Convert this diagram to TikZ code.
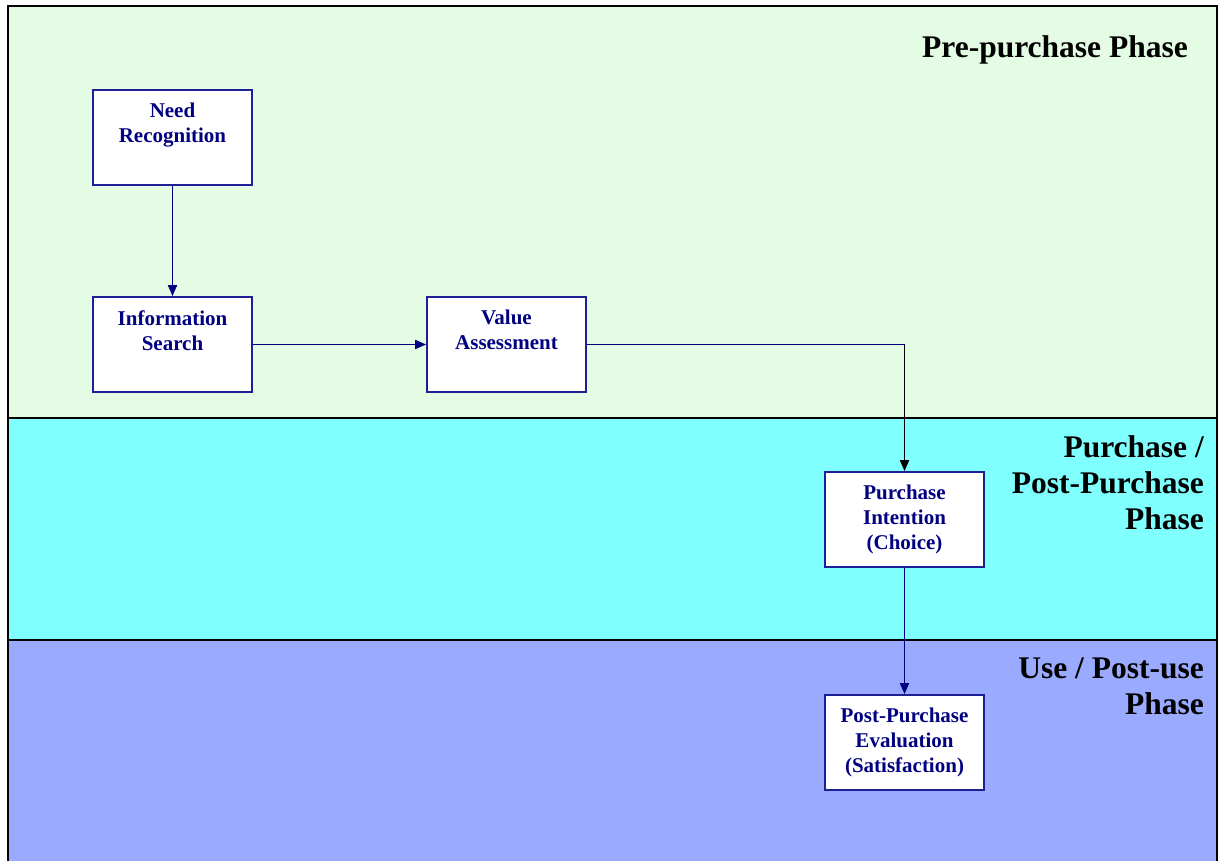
\documentclass[tikz,border=0pt]{standalone}
\usepackage{fontspec}
\setmainfont{Liberation Serif}
\usetikzlibrary{arrows.meta}

\definecolor{prebg}{RGB}{227,252,227}
\definecolor{purbg}{RGB}{128,255,255}
\definecolor{usebg}{RGB}{153,170,255}
\definecolor{navyink}{RGB}{0,0,128}
\definecolor{boxline}{RGB}{30,30,150}

\tikzset{
  band/.style={draw=black, line width=1.8pt},
  stagebox/.style={draw=boxline, fill=white, line width=1.8pt,
    minimum width=159pt, minimum height=95pt, inner sep=0pt},
  stagetext/.style={text=navyink, align=center, inner sep=0pt, anchor=north,
    font=\bfseries\fontsize{21}{25}\selectfont},
  phasetext/.style={text=black, align=right, inner sep=0pt,
    font=\bfseries\fontsize{31.5}{36}\selectfont},
  flow/.style={draw=navyink, line width=1.8pt, -{Triangle[length=11pt,width=9pt]}},
  flowplain/.style={draw=navyink, line width=1.8pt},
  flowdark/.style={draw=black, line width=1.8pt, -{Triangle[length=11pt,width=9pt]}},
}

\begin{document}
\begin{tikzpicture}[x=1pt,y=-1pt]
\useasboundingbox (0,0) rectangle (1218,861);

% phase bands
\fill[prebg] (8,6) rectangle (1217,418);
\fill[purbg] (8,418) rectangle (1217,640);
\fill[usebg] (8,640) rectangle (1217,870);
\draw[band] (8,870) -- (8,6) -- (1217,6) -- (1217,870);
\draw[band] (8,418) -- (1217,418);
\draw[band] (8,640) -- (1217,640);

% phase titles
\node[phasetext, anchor=base east] (pre) at (1188,58) {Pre-purchase Phase};
\node[phasetext, anchor=north east] (pur) at (1204,435) {Purchase /\\Post-Purchase\\Phase};
\node[phasetext, anchor=north east] (use) at (1204,658) {Use / Post-use\\Phase};

% stages
\node[stagebox] (need) at (172.5,137.5) {};
\node[stagebox] (info) at (172.5,344.5) {};
\node[stagebox] (value) at (506.5,344.5) {};
\node[stagebox] (intent) at (904.5,519.5) {};
\node[stagebox] (eval) at (904.5,742.5) {};

\node[stagetext] (needT) at ([yshift=-14pt]need.north) {Need\\Recognition};
\node[stagetext] (infoT) at ([yshift=-14pt]info.north) {Information\\Search};
\node[stagetext] (valueT) at ([yshift=-14pt]value.north) {Value\\Assessment};
\node[stagetext] (intentT) at ([yshift=-14pt]intent.north) {Purchase\\Intention\\(Choice)};
\node[stagetext] (evalT) at ([yshift=-14pt]eval.north) {Post-Purchase\\Evaluation\\(Satisfaction)};

% connectors
\coordinate (bend) at (intent.north |- value.east);
\draw[flow] (need.south) -- (info.north);
\draw[flow] (info.east) -- (value.west);
\draw[flowplain] (value.east) -- (bend);
\draw[flowdark] (bend) -- (intent.north);
\draw[flow] (intent.south) -- (eval.north);
\end{tikzpicture}
\end{document}
